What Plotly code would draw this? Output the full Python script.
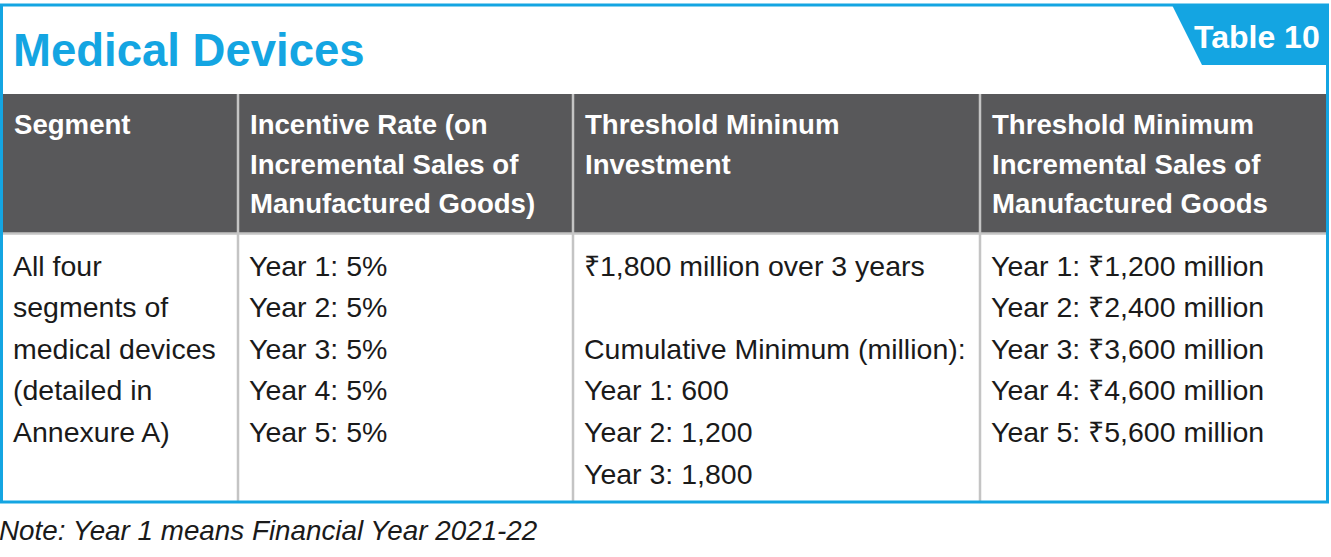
import plotly.graph_objects as go

#### datos de la tabla ####
title_text = "Medical Devices"
table_label = "Table 10"

header_lines = [
    ["Segment"],
    ["Incentive Rate (on", "Incremental Sales of", "Manufactured Goods)"],
    ["Threshold Mininum", "Investment"],
    ["Threshold Minimum", "Incremental Sales of", "Manufactured Goods"],
]

body_lines = [
    ["All four", "segments of", "medical devices", "(detailed in", "Annexure A)"],
    ["Year 1: 5%", "Year 2: 5%", "Year 3: 5%", "Year 4: 5%", "Year 5: 5%"],
    ["₹1,800 million over 3 years", "", "Cumulative Minimum (million):",
     "Year 1: 600", "Year 2: 1,200", "Year 3: 1,800"],
    ["Year 1: ₹1,200 million", "Year 2: ₹2,400 million", "Year 3: ₹3,600 million",
     "Year 4: ₹4,600 million", "Year 5: ₹5,600 million"],
]

note_text = "Note: Year 1 means Financial Year 2021-22"

#### estilo ####
W, H = 1331, 557
BLUE = "#14a5e2"
GRAY = "#58585a"
LINE = "#c4c4c4"
FONT = "Liberation Sans, Arial, sans-serif"

col_edges = [1.5, 238, 573, 980, 1327.5]
top, head_top, head_bot, bottom = 5, 94, 233.5, 502
pad_head, pad_body = 10, 9
head_y0, head_step = 124.5, 39.5
body_y0, body_step = 265.5, 41.6

shapes = []
# encabezado gris
shapes.append(dict(type="rect", x0=col_edges[0], x1=col_edges[-1], y0=head_top, y1=head_bot,
                   fillcolor=GRAY, line=dict(width=0), layer="below"))
# separador encabezado / cuerpo
shapes.append(dict(type="line", x0=col_edges[0], x1=col_edges[-1], y0=head_bot, y1=head_bot,
                   line=dict(color=LINE, width=2.5)))
# divisores de columnas
for xe in col_edges[1:-1]:
    shapes.append(dict(type="line", x0=xe, x1=xe, y0=head_top, y1=bottom,
                       line=dict(color=LINE, width=2.5)))
# pestaña "Table 10"
shapes.append(dict(type="path", path=f"M 1172,{top} L {col_edges[-1]},{top} L {col_edges[-1]},65 L 1202,65 Z",
                   fillcolor=BLUE, line=dict(width=0)))
# borde azul exterior
shapes.append(dict(type="rect", x0=col_edges[0], x1=col_edges[-1], y0=top, y1=bottom,
                   line=dict(color=BLUE, width=3)))

ann = []
ann.append(dict(x=11, y=50.5, text=f"<b>{title_text}</b>", xanchor="left", yanchor="middle",
                font=dict(family=FONT, size=45.5, color=BLUE)))
ann.append(dict(x=1322, y=37, text=f"<b>{table_label}</b>", xanchor="right", yanchor="middle",
                font=dict(family=FONT, size=32, color="white")))

for c, lines in enumerate(header_lines):
    for i, t in enumerate(lines):
        ann.append(dict(x=col_edges[c] + pad_head, y=head_y0 + i * head_step, text=f"<b>{t}</b>",
                        xanchor="left", yanchor="middle",
                        font=dict(family=FONT, size=27.6, color="white")))

for c, lines in enumerate(body_lines):
    for i, t in enumerate(lines):
        if not t:
            continue
        ann.append(dict(x=col_edges[c] + pad_body, y=body_y0 + i * body_step, text=t,
                        xanchor="left", yanchor="middle",
                        font=dict(family=FONT, size=28.5, color="#1a1a1a")))

# nota al pie (x=0 con desplazamiento, fuera de rango la anotación se oculta)
ann.append(dict(x=0, y=530, xshift=-3, text=f"<i>{note_text}</i>", xanchor="left", yanchor="middle",
                font=dict(family=FONT, size=27.8, color="#1a1a1a")))

for a in ann:
    a.update(xref="x", yref="y", showarrow=False)

fig = go.Figure()
fig.update_layout(
    width=W, height=H,
    margin=dict(l=0, r=0, t=0, b=0),
    paper_bgcolor="white", plot_bgcolor="white",
    xaxis=dict(range=[0, W], visible=False, fixedrange=True),
    yaxis=dict(range=[H, 0], visible=False, fixedrange=True),
    shapes=shapes, annotations=ann, showlegend=False,
)
# quitar el margen por defecto del body para que la figura empiece en (0,0)
fig.write_html("out.html", config={"displayModeBar": False},
               post_script="document.body.style.margin='0';document.body.style.overflow='hidden';")
